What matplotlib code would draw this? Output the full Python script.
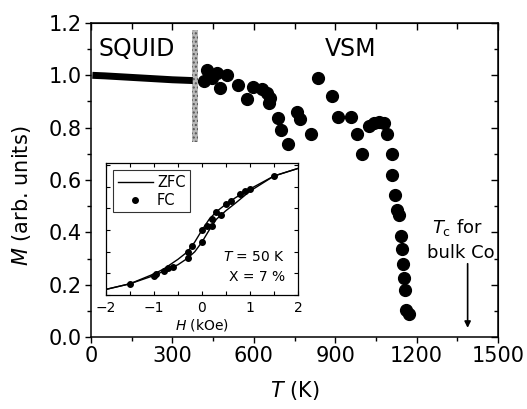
import matplotlib
matplotlib.use("Agg")
import matplotlib.pyplot as plt
from matplotlib.patches import Rectangle
from matplotlib.ticker import MultipleLocator, NullFormatter

plt.rcParams['font.family'] = ['DejaVu Sans']
plt.rcParams['mathtext.fontset'] = 'dejavusans'

# ---- main panel data ----
squid_T = [5, 50, 100, 150, 200, 250, 300, 350, 375]
squid_M = [1.000, 0.998, 0.995, 0.992, 0.989, 0.986, 0.983, 0.981, 0.980]

vsm_T = [427, 417, 446, 464, 501, 477, 542, 575, 596, 631, 647, 661, 655,
         688, 701, 725, 760, 772, 809, 837, 889, 910, 957, 982, 998, 1025,
         1043, 1062, 1078, 1092, 1108, 1111, 1120, 1126, 1136, 1142, 1145,
         1148, 1152, 1156, 1160, 1172]
vsm_M = [1.021, 0.979, 0.988, 1.008, 1.001, 0.953, 0.962, 0.909, 0.957,
         0.947, 0.934, 0.915, 0.893, 0.836, 0.790, 0.736, 0.858, 0.835,
         0.777, 0.989, 0.921, 0.842, 0.842, 0.777, 0.698, 0.806, 0.817,
         0.822, 0.819, 0.777, 0.698, 0.618, 0.544, 0.484, 0.468, 0.385,
         0.336, 0.279, 0.225, 0.180, 0.103, 0.087]

T_boundary = 384
bar_M = [0.745, 1.175]
Tc_bulk = 1388

# ---- inset data (hysteresis loop) ----
H_down = [2.0, 1.5, 1.0, 0.7, 0.5, 0.3, 0.15, 0.0, -0.15, -0.3, -0.5, -0.8, -1.0, -1.5, -2.0]
M_down = [1.17, 1.10, 0.98, 0.90, 0.84, 0.77, 0.70, 0.60, 0.49, 0.40, 0.33, 0.24, 0.195, 0.104, 0.052]
H_up = [-2.0, -1.5, -1.0, -0.8, -0.5, -0.3, -0.15, 0.0, 0.15, 0.3, 0.5, 0.7, 1.0, 1.5, 2.0]
M_up = [0.052, 0.104, 0.18, 0.22, 0.28, 0.34, 0.40, 0.49, 0.60, 0.70, 0.78, 0.85, 0.96, 1.10, 1.17]
fc_H = [-1.5, -1.0, -0.95, -0.8, -0.7, -0.6, -0.3, -0.2, 0.0, 0.1, 0.2, 0.3, 0.5, 0.6, 0.8, 0.9, 1.0, 1.5,
        -0.3, 0.0, 0.2, 0.4]
fc_M = [0.104, 0.18, 0.195, 0.22, 0.25, 0.26, 0.40, 0.45, 0.60, 0.64, 0.70, 0.77, 0.84, 0.87, 0.93, 0.96, 0.98, 1.10,
        0.34, 0.49, 0.64, 0.74]

fig = plt.figure(figsize=(5.27, 4.09), dpi=100)
ax = fig.add_axes([0.1727, 0.176, 0.7723, 0.7678])

ax.plot(squid_T, squid_M, color='black', lw=5, solid_capstyle='butt')
ax.plot(vsm_T, vsm_M, 'o', color='black', ms=8.5, mec='black')
ax.add_patch(Rectangle((T_boundary - 11, bar_M[0]), 22, bar_M[1] - bar_M[0],
                       facecolor='#b8b8b8', edgecolor='#555555', hatch='....', lw=0))

ax.set_xlim(0, 1500)
ax.set_ylim(0, 1.2)
ax.xaxis.set_major_locator(MultipleLocator(300))
ax.xaxis.set_minor_locator(MultipleLocator(150))
ax.yaxis.set_major_locator(MultipleLocator(0.2))
ax.yaxis.set_minor_locator(MultipleLocator(0.1))
ax.yaxis.set_major_formatter(matplotlib.ticker.FormatStrFormatter('%.1f'))
ax.tick_params(which='major', direction='out', length=4, width=1, labelsize=15, pad=2.5)
ax.tick_params(which='minor', direction='out', length=3, width=1)
for s in ax.spines.values():
    s.set_linewidth(1.1)

secx = ax.secondary_xaxis('top')
secx.xaxis.set_major_locator(MultipleLocator(300))
secx.xaxis.set_minor_locator(MultipleLocator(150))
secx.tick_params(which='major', direction='in', length=5, width=1, labeltop=False)
secx.tick_params(which='minor', direction='in', length=4, width=1)
secy = ax.secondary_yaxis('right')
secy.yaxis.set_major_locator(MultipleLocator(0.2))
secy.yaxis.set_minor_locator(MultipleLocator(0.1))
secy.tick_params(which='major', direction='in', length=5, width=1, labelright=False)
secy.tick_params(which='minor', direction='in', length=3, width=1)

ax.set_xlabel('$T$ (K)', fontsize=15, labelpad=9)
ax.set_ylabel('$M$ (arb. units)', fontsize=15)
ax.yaxis.set_label_coords(-0.142, 0.45)

ax.text(26, 1.10, 'SQUID', fontsize=17, va='center', ha='left')
ax.text(957, 1.10, 'VSM', fontsize=17, va='center', ha='center')
ax.text(1352, 0.42, '$T_\\mathrm{c}$ for', fontsize=13, va='center', ha='center')
ax.text(1363, 0.32, 'bulk Co', fontsize=13, va='center', ha='center')
ax.annotate('', xy=(Tc_bulk, 0.035), xytext=(Tc_bulk, 0.28),
            arrowprops=dict(arrowstyle='-|>', color='black', lw=1.2,
                            mutation_scale=9, shrinkA=0, shrinkB=0))

# ---- inset ----
ins = fig.add_axes([0.2011, 0.2787, 0.3643, 0.3227])
ins.plot(H_down, M_down, color='black', lw=1, label='ZFC')
ins.plot(H_up, M_up, color='black', lw=1)
ins.plot(fc_H, fc_M, 'o', color='black', ms=4, label='FC')
ins.set_xlim(-2, 2)
ins.set_ylim(0, 1.22)
ins.xaxis.set_major_locator(MultipleLocator(1))
ins.xaxis.set_minor_locator(MultipleLocator(0.5))
ins.yaxis.set_major_locator(MultipleLocator(0.2))
ins.yaxis.set_major_formatter(NullFormatter())
ins.tick_params(which='both', direction='in', length=3, width=0.8, labelsize=10,
                top=True, right=True, pad=4)
ins.tick_params(axis='y', which='both', left=True, right=True)
for s in ins.spines.values():
    s.set_linewidth(0.9)
ins.set_xlabel('$H$ (kOe)', fontsize=10, labelpad=2)
ins.text(1.73, 0.354, '$T$ = 50 K', fontsize=10, ha='right', va='center')
ins.text(1.73, 0.17, 'X = 7 %', fontsize=10, ha='right', va='center')
leg = ins.legend(loc='upper left', fontsize=10.5, frameon=True, fancybox=False,
                 edgecolor='black', handlelength=2.4, handletextpad=0.3,
                 borderpad=0.3, labelspacing=0.2, borderaxespad=0.5)
leg.get_frame().set_linewidth(0.8)

fig.savefig('out.png', dpi=100)
